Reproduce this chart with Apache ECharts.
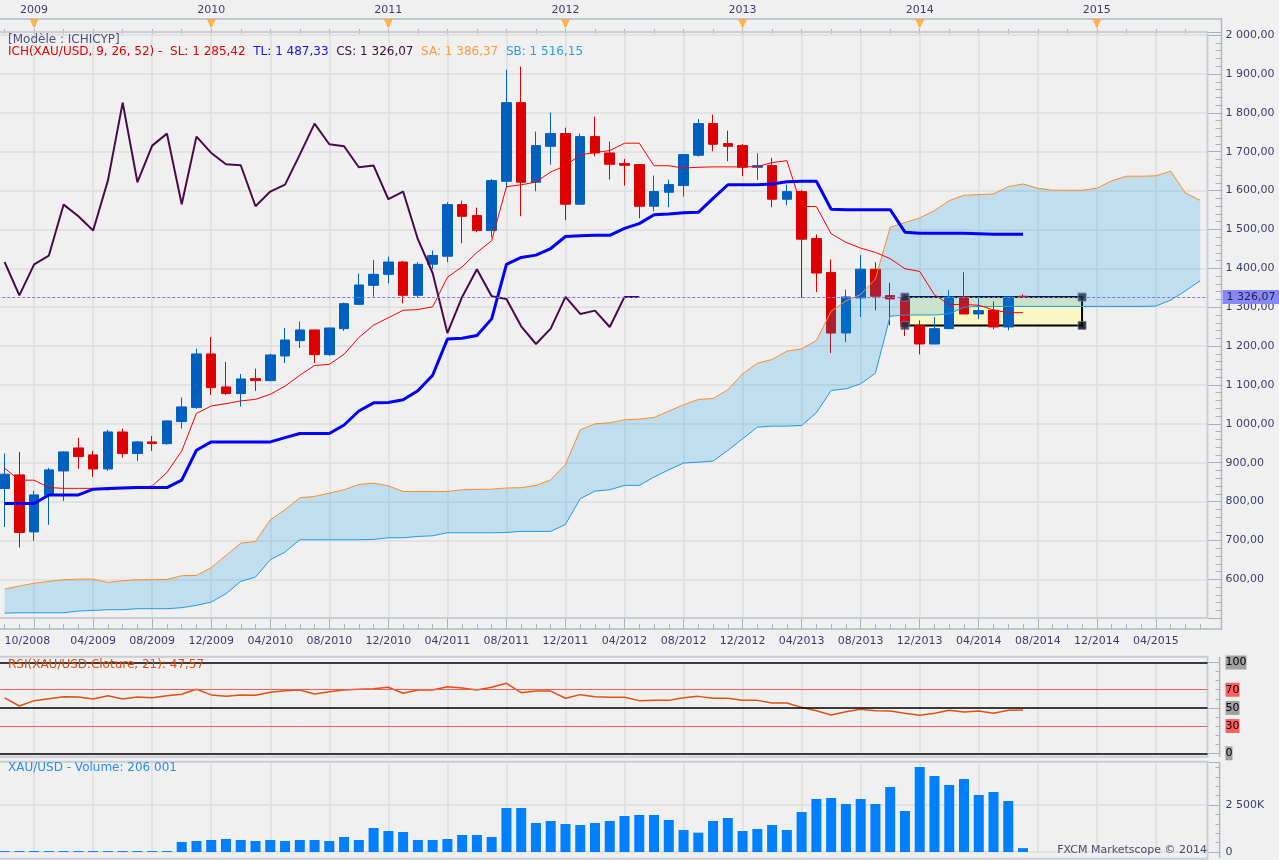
<!DOCTYPE html>
<html><head><meta charset="utf-8">
<script src="https://cdn.jsdelivr.net/npm/echarts@6/dist/echarts.min.js"></script>
<style>html,body{margin:0;padding:0;background:#f0f0f0;overflow:hidden}#c{position:absolute;left:-3px;top:0;width:1282px;height:860px}</style>
</head><body><div id="c"></div>
<script>
// ---------- categories (monthly, first = 10/2008) ----------
const startYear = 2008, startMonth = 10, monthCount = 82;
const categories = [];
(function(){ let y = startYear, m = startMonth; for (let k = 0; k < monthCount; k++) { categories.push(String(m).padStart(2,'0') + '/' + y); m++; if (m > 12) { m = 1; y++; } } })();

// ---------- candles ----------
const opens = [833.5,868.7,722,816.4,878.9,938,920,884,979,923.5, 953.5,949,1005.8,1041.8,1179.8,1095,1077.8,1116.3,1111.2,1174.6, 1214,1241.5,1178,1244.9,1307.4,1356.3,1384.6,1416.3,1330.6,1410.7, 1431.2,1564,1535.8,1497.2,1624,1826.3,1621.5,1714,1746.6,1564.9, 1738.9,1696.9,1669.5,1666.9,1559.8,1595.8,1612.9,1690.9,1772.3,1720.9, 1715.7,1660,1664.3,1577.8,1597.5,1476.6,1389.5,1233.7,1323.9,1397.8, 1329.9,1324.8,1252.6,1205.4,1244.9,1326.5,1282.7,1292.1,1249.2,1328.2];
const closes = [870.4,720.4,817.2,881.5,927.8,915.8,884,979.2,923.5,953.5, 949.2,1007.5,1043.5,1179.8,1093.2,1077.8,1115.5,1111.2,1177.2,1215.7, 1241.5,1178,1246.6,1309.2,1357.2,1384.6,1416.3,1330.6,1410.3,1433, 1564,1534,1497.2,1625.8,1826.3,1621.5,1715.7,1746.6,1564.9,1738.9, 1696.9,1667.8,1665.2,1559.8,1597.5,1615.5,1692.6,1772.3,1719.2,1714, 1660,1664.3,1577.8,1597.5,1475,1388,1233.5,1326.5,1397.8,1328.2, 1321.3,1250.9,1205.4,1244.9,1326.5,1282.7,1291.3,1249.2,1326.5,1326.07];
const lows = [735,681.8,699,740,801.8,884,863.5,878.9,913.2,904.6, 930.4,946,987.8,1039,1074.3,1074.3,1044.4,1084.6,1110,1156.6, 1195.2,1156.6,1174.6,1239,1307,1327.2,1361.4,1310,1324.6,1398.6, 1415.8,1464.6,1493,1480,1608.6,1534,1598.3,1666.9,1523.8,1564, 1688.3,1628.3,1612.9,1528.9,1546.9,1557.2,1584.6,1687.5,1701.2,1675.5, 1636.9,1627.5,1557.2,1562.3,1324,1338.7,1182,1210.5,1274.9,1292.1, 1253.5,1226,1178.7,1205,1244,1282,1269.8,1243.2,1240.6,1324];
const highs = [923.5,927.8,827.5,886.6,930,963.8,930.4,985,987.8,956, 969,1009,1067.5,1193.5,1223.5,1159.2,1128.3,1142,1180,1246.6, 1262.9,1242,1247,1311.7,1386.3,1421.4,1430,1419,1416,1445.8, 1570,1574.3,1556.3,1630,1911,1918.9,1751.7,1800.6,1762,1746.6, 1790.3,1726,1681.5,1668,1638.6,1628.3,1693,1784.3,1795.4,1754.3, 1720,1696,1684,1615.5,1601.8,1487,1422.7,1345.4,1433.9,1415.8, 1362.6,1333,1266.4,1274.9,1343.7,1390,1326.5,1315.3,1327,1333.4];

// ---------- Ichimoku lines ----------
const tenkan = [886,855,855,836,834,834,834,830,836,836, 840,875,930,1027,1046,1052,1059,1063,1076,1097, 1125,1150,1153,1179,1222,1254,1273,1292,1294,1301, 1377,1404,1441,1471,1610,1615,1622,1648,1664,1692, 1698,1703,1722,1722,1664,1664,1658,1660,1661,1661, 1661,1662,1672,1677,1559,1559,1489,1467,1452,1441, 1425,1399,1392,1332,1307,1307,1305,1293,1286,1286];
const kijun = [795,795,795,817,817,817,832,833.5,835,836, 836,836,855,932,953.5,953.5,953.5,953.5,953.5,964.6, 975,975,975,997,1033,1054,1055,1062,1085,1125, 1218,1220,1227,1270,1410,1428,1434,1451,1482,1484, 1485,1485,1503,1515,1538,1540,1543,1544,1580,1615, 1615,1615,1617,1623,1624,1624,1552,1551,1551,1551, 1551,1493,1490,1490,1490,1490,1489,1488,1488,1488];
const senkouA = [575,582.6,590,594.6,599,600.6,600.6,592,596.4,599, 599,599.8,609.2,610,630,661.5,693,697.5,753.2,779, 809.7,813.2,821.7,830.3,844,847.5,840.6,826,826,826, 826,830.3,831.2,832,835,835.6,841.6,856,895.5,984.7, 1000,1002.7,1010.4,1012,1016.4,1032.7,1049,1062.7,1065.2,1087.5, 1128.6,1156,1165.5,1187,1193,1214.4,1289.8,1316,1333,1372.9, 1505.7,1517.7,1529.7,1548.6,1574.3,1588,1589.7,1591.4,1610.3,1617, 1606,1601,1601,1601,1606,1625,1637,1637,1638,1650, 1594,1575];
const senkouB = [513,514,514,514,514,518.4,520,521.8,521.8,524.4, 524.4,524.4,527,533,541.5,563,594.6,605.8,650.3,670, 701.8,701.8,701.8,701.8,701.8,702.6,706.9,706.9,710.3,712, 719.8,719.8,719.8,719.8,720.5,723.3,723.3,723.3,741.3,807.3, 827,830.4,841.6,841.6,863,881.8,899,901.5,904.1,931.5, 961.5,991.5,994.1,994.1,995.8,1028.4,1085.8,1090,1102.9,1130.4, 1276.9,1280,1280,1280,1283,1300,1302,1302,1302,1302, 1302,1302,1302,1302,1302,1302,1302,1302,1303,1318, 1342,1368];
const chikouShift = 26;

// ---------- RSI and volume ----------
const rsi = [61,52.1,58,60.2,62.3,62,59.8,63.4,59.8,62, 61.3,63.4,65,70.5,64.3,62.9,64.3,64,67.2,69, 69.7,65.3,67.9,69.7,70.5,71.2,72.7,66.1,69.7,69.7, 73.4,72,69.7,72.7,77.1,66.7,68.5,68.5,60.6,64.6, 62.3,61.7,61.7,58,58.3,58.3,61.2,62.7,60.5,60.5, 58.3,58.3,55.4,55.4,50.6,46.9,42.2,45.8,48.4,46.9, 46.6,44,41.8,44,47.3,45.4,46.6,44,47.3,47.57];
const rsiLevels = [100, 70, 50, 30, 0];
const volumeK = [50,50,50,50,50,50,50,50,50,50,50,50, 532,585,638,691,638,585,638,585,638,638,585,798,638, 1277,1117,1064,638,638,691,904,904,798, 2340,2340,1543,1649,1489,1436,1543,1649,1915,1968, 1968,1702,1170,1028,1649,1809,1117,1223,1436,1170,2128,2819,2872,2553,2819,2553,3457,2181,4521,4043,3564,3883,3032,3191,2713,206];

// ---------- drawn box ----------
const boxStartIdx = 61, boxEndIdx = 73, boxTop = 1326.07, boxBottom = 1253.2;

// ---------- legend values ----------
const legendSL = 1285.42, legendTL = 1487.33, legendCS = 1326.07, legendSA = 1386.37, legendSB = 1516.15;
const rsiLast = 47.57, volumeLast = 206001;

// ---------- helpers ----------
function fmt(v, dec) {
  const s = Number(v).toFixed(dec); const p = s.split('.');
  const ip = p[0].replace(/\B(?=(\d{3})+(?!\d))/g, ' ');
  return p.length > 1 ? ip + ',' + p[1] : ip;
}
const monthOf = i => parseInt(categories[i].slice(0, 2), 10);
const isGridMonth = i => monthOf(i) % 4 === 0;
const candleData = opens.map((o, i) => [o, closes[i], lows[i], highs[i]]);
const chikou = categories.map((_, i) => (i + chikouShift < closes.length ? closes[i + chikouShift] : '-'));
const cloudThickness = senkouA.map((a, i) => a - senkouB[i]);
const yearMarks = categories.map((c, i) => i).filter(i => monthOf(i) === 12).map(i => [categories[i], 0.5]);

const FF = '"DejaVu Sans", sans-serif';
const TXT = '#3c3c6c';
const GRIDC = '#dedede';
const X0 = 3;               // div is shifted 3px left; add X0 to page x coords
const L = 0.22, W = 1210.3;

const splitX = { show: true, interval: (i) => isGridMonth(i), alignWithLabel: true, lineStyle: { color: GRIDC, width: 1.5 } };
function hiddenX(grid, split) {
  return { gridIndex: grid, type: 'category', data: categories, boundaryGap: true,
    axisLine: { show: false }, axisTick: { show: false }, axisLabel: { show: false },
    splitLine: split ? splitX : { show: false } };
}
function gridAt(top, height) { return { left: L, width: W, top: top, height: height, outerBoundsMode: 'none', containLabel: false }; }

const chart = echarts.init(document.getElementById('c'), null, { renderer: 'canvas' });
chart.setOption({
  backgroundColor: '#f0f0f0',
  animation: false,
  title: [
    { text: '[Modèle : ICHICYP]', left: 8 + X0, top: 34, padding: 0, z: 20,
      textStyle: { fontSize: 12, fontWeight: 'normal', color: '#50507a', fontFamily: FF } },
    { text: '{a|ICH(XAU/USD, 9, 26, 52) -  SL: ' + fmt(legendSL, 2) + '}  {b|TL: ' + fmt(legendTL, 2) + '}  {c|CS: ' + fmt(legendCS, 2) + '}  {d|SA: ' + fmt(legendSA, 2) + '}  {e|SB: ' + fmt(legendSB, 2) + '}',
      left: 8 + X0, top: 46, padding: 0, z: 20,
      textStyle: { fontSize: 12, fontWeight: 'normal', fontFamily: FF,
        rich: { a: { color: '#e60000', fontSize: 12, fontFamily: FF }, b: { color: '#1414e6', fontSize: 12, fontFamily: FF },
                c: { color: '#3c0a3c', fontSize: 12, fontFamily: FF }, d: { color: '#ff9a3c', fontSize: 12, fontFamily: FF },
                e: { color: '#28a0e6', fontSize: 12, fontFamily: FF } } } },
    { text: 'RSI(XAU/USD.Cloture, 21): ' + fmt(rsiLast, 2), left: 8 + X0, top: 659, padding: 0, z: 20,
      textStyle: { fontSize: 12, fontWeight: 'normal', color: '#e2500f', fontFamily: FF } },
    { text: 'XAU/USD - Volume: ' + fmt(volumeLast, 0), left: 8 + X0, top: 762, padding: 0, z: 20,
      textStyle: { fontSize: 12, fontWeight: 'normal', color: '#2d8be6', fontFamily: FF } },
    { text: 'FXCM Marketscope © 2014', right: 72, top: 845, padding: 0, z: 20,
      textStyle: { fontSize: 11, fontWeight: 'normal', color: '#4a4a6a', fontFamily: FF } }
  ],
  grid: [ gridAt(32, 586.2), gridAt(19, 10), gridAt(618.2, 10.8), gridAt(662.5, 90.8), gridAt(762, 90) ],
  xAxis: [
    hiddenX(0, true),
    { gridIndex: 1, type: 'category', data: categories, position: 'top', boundaryGap: true,
      axisLine: { show: false },
      axisTick: { show: true, inside: true, length: 5, alignWithLabel: true, interval: (i) => i % 2 === 0, lineStyle: { color: '#a8b0c0' } },
      axisLabel: { show: true, interval: 0, margin: 3, color: TXT, fontSize: 11, fontFamily: FF,
        formatter: (v) => { const p = v.split('/'); return p[0] === '12' ? String(+p[1] + 1) : ''; } },
      splitLine: { show: false } },
    { gridIndex: 2, type: 'category', data: categories, position: 'bottom', boundaryGap: true,
      axisLine: { show: false },
      axisTick: { show: true, inside: true, length: 5, alignWithLabel: true, interval: 0, lineStyle: { color: '#a8b0c0' } },
      axisLabel: { show: true, interval: (i) => i === 0 || (isGridMonth(i) && i >= 6), margin: 7, color: TXT, fontSize: 11, fontFamily: FF, alignMinLabel: 'left', hideOverlap: false },
      splitLine: { show: false } },
    { gridIndex: 2, type: 'category', data: categories, position: 'bottom', boundaryGap: true,
      axisLine: { show: false },
      axisTick: { show: true, inside: true, length: 11, alignWithLabel: true, interval: (i) => isGridMonth(i), lineStyle: { color: '#a8b0c0' } },
      axisLabel: { show: false }, splitLine: { show: false } },
    hiddenX(3, true),
    hiddenX(4, true)
  ],
  yAxis: [
    { gridIndex: 0, type: 'value', position: 'right', offset: 14, min: 500, max: 2008, interval: 100,
      axisLine: { show: false },
      axisTick: { show: true, inside: true, length: 14, lineStyle: { color: '#a8b0c0' } },
      minorTick: { show: true, splitNumber: 5, length: 6, lineStyle: { color: '#a8b0c0' } },
      axisLabel: { margin: 4, color: TXT, fontSize: 11, fontFamily: FF,
        formatter: (v) => (v % 100 === 0 && v >= 600 && v <= 2000) ? fmt(v, 2) : '' },
      splitLine: { show: true, lineStyle: { color: GRIDC, width: 1.5 } } },
    { gridIndex: 1, type: 'value', min: 0, max: 1, show: false },
    { gridIndex: 2, type: 'value', min: 0, max: 1, show: false },
    { gridIndex: 3, type: 'value', position: 'right', offset: 12, min: 0, max: 100, interval: 50,
      axisLine: { show: false },
      axisTick: { show: true, inside: true, length: 11, lineStyle: { color: '#a8b0c0' } },
      minorTick: { show: true, splitNumber: 5, length: 4, lineStyle: { color: '#a8b0c0' } },
      axisLabel: { show: false }, splitLine: { show: false } },
    { gridIndex: 4, type: 'value', position: 'right', offset: 12, min: 0, max: 4787, interval: 2500,
      axisLine: { show: false },
      axisTick: { show: true, inside: true, length: 11, lineStyle: { color: '#a8b0c0' } },
      minorTick: { show: true, splitNumber: 5, length: 4, lineStyle: { color: '#a8b0c0' } },
      axisLabel: { margin: 6, color: TXT, fontSize: 11, fontFamily: FF,
        formatter: (v) => v === 0 ? '0' : (v % 2500 === 0 ? fmt(v, 0) + 'K' : '') },
      splitLine: { show: true, lineStyle: { color: GRIDC, width: 1.5 } } }
  ],
  series: [
    { type: 'candlestick', name: 'XAU/USD', xAxisIndex: 0, yAxisIndex: 0, z: 2, barWidth: 10,
      data: candleData, emphasis: { disabled: true }, silent: true,
      itemStyle: { color: '#0060c0', color0: '#dd0000', borderColor: '#0060c0', borderColor0: '#dd0000', borderWidth: 1 },
      markArea: { silent: true,
        itemStyle: { color: '#faf7c2', borderColor: '#000', borderWidth: 2 },
        data: [[{ xAxis: categories[boxStartIdx], yAxis: boxTop }, { xAxis: categories[boxEndIdx], yAxis: boxBottom }]] },
      markLine: { silent: true, symbol: ['none', 'none'],
        data: [{ yAxis: closes[closes.length - 1],
          lineStyle: { color: '#7878ff', width: 1, type: [3, 2] },
          label: { show: true, position: 'end', distance: 15, formatter: fmt(closes[closes.length - 1], 2),
            backgroundColor: '#8888f4', color: '#1e1e50', fontSize: 11, fontFamily: FF, padding: [2, 4, 1, 4] } }] } },
    { type: 'line', name: 'kumoBase', xAxisIndex: 0, yAxisIndex: 0, data: senkouB, stack: 'kumo', symbol: 'none',
      lineStyle: { opacity: 0 }, z: 3, silent: true },
    { type: 'line', name: 'kumo', xAxisIndex: 0, yAxisIndex: 0, data: cloudThickness, stack: 'kumo', symbol: 'none',
      lineStyle: { opacity: 0 }, areaStyle: { color: 'rgba(0,150,230,0.2)', opacity: 1 }, z: 3, silent: true },
    { type: 'line', name: 'SA', xAxisIndex: 0, yAxisIndex: 0, data: senkouA, symbol: 'none',
      lineStyle: { color: '#ff8c28', width: 1 }, z: 4, silent: true },
    { type: 'line', name: 'SB', xAxisIndex: 0, yAxisIndex: 0, data: senkouB, symbol: 'none',
      lineStyle: { color: '#1e9be6', width: 1 }, z: 4, silent: true },
    { type: 'line', name: 'SL', xAxisIndex: 0, yAxisIndex: 0, data: tenkan, symbol: 'none',
      lineStyle: { color: '#ff0000', width: 1 }, z: 4, silent: true },
    { type: 'line', name: 'TL', xAxisIndex: 0, yAxisIndex: 0, data: kijun, symbol: 'none',
      lineStyle: { color: '#0000ff', width: 3 }, z: 4, silent: true },
    { type: 'line', name: 'CS', xAxisIndex: 0, yAxisIndex: 0, data: chikou, symbol: 'none',
      lineStyle: { color: '#4a0a4a', width: 2 }, z: 4, silent: true },
    { type: 'scatter', name: 'handles', xAxisIndex: 0, yAxisIndex: 0, symbol: 'rect', symbolSize: 8, z: 6, silent: true,
      itemStyle: { color: '#1e2a46', borderColor: '#7080b0', borderWidth: 1 },
      data: [[categories[boxStartIdx], boxTop], [categories[boxEndIdx], boxTop], [categories[boxStartIdx], boxBottom],
             { value: [categories[boxEndIdx], boxBottom], itemStyle: { color: '#000000' } }] },
    { type: 'scatter', name: 'years', xAxisIndex: 1, yAxisIndex: 1, symbol: 'triangle', symbolRotate: 180,
      symbolSize: [9, 10], data: yearMarks, itemStyle: { color: '#ffa526' }, silent: true, z: 5 },
    { type: 'line', name: 'RSI', xAxisIndex: 4, yAxisIndex: 3, data: rsi, symbol: 'none',
      lineStyle: { color: '#e2500f', width: 1.5 }, silent: true,
      markLine: { silent: true, symbol: ['none', 'none'],
        data: rsiLevels.map(v => {
          const red = (v === 70 || v === 30);
          return { yAxis: v,
            lineStyle: { color: red ? '#ff5a5a' : '#000000', width: red ? 1 : 1.5, type: 'solid' },
            label: { show: true, position: 'end', distance: 18, formatter: String(v),
              backgroundColor: red ? '#ff6060' : '#a0a0a0', color: '#000', fontSize: 11, fontFamily: FF, padding: [2, 0, 1, 0] } };
        }) } },
    { type: 'bar', name: 'Volume', xAxisIndex: 5, yAxisIndex: 4, data: volumeK, barWidth: 10,
      itemStyle: { color: '#0080ff' }, silent: true }
  ],
  graphic: [
    { type: 'rect', z: 5, silent: true, shape: { x: -3 + X0, y: 32, width: 1210.5, height: 586 }, style: { fill: 'transparent', stroke: '#c8cdd8', lineWidth: 2 } },
    { type: 'line', z: 5, silent: true, shape: { x1: X0, y1: 19, x2: 1222 + X0, y2: 19 }, style: { stroke: '#b0b8c8', lineWidth: 1.5 } },
    { type: 'line', z: 5, silent: true, shape: { x1: 1221.5 + X0, y1: 19, x2: 1221.5 + X0, y2: 629 }, style: { stroke: '#b0b8c8', lineWidth: 1.5 } },
    { type: 'line', z: 5, silent: true, shape: { x1: X0, y1: 629, x2: 1222 + X0, y2: 629 }, style: { stroke: '#b0b8c8', lineWidth: 1.5 } },
    { type: 'rect', z: 5, silent: true, shape: { x: -3 + X0, y: 656.7, width: 1210.5, height: 100 }, style: { fill: 'transparent', stroke: '#c8cdd8', lineWidth: 2 } },
    { type: 'line', z: 5, silent: true, shape: { x1: 1219.6 + X0, y1: 657, x2: 1219.6 + X0, y2: 757 }, style: { stroke: '#b0b8c8', lineWidth: 1.5 } },
    { type: 'rect', z: 5, silent: true, shape: { x: -3 + X0, y: 761.7, width: 1210.5, height: 97 }, style: { fill: 'transparent', stroke: '#c8cdd8', lineWidth: 2 } },
    { type: 'line', z: 5, silent: true, shape: { x1: 1219.6 + X0, y1: 762, x2: 1219.6 + X0, y2: 858 }, style: { stroke: '#b0b8c8', lineWidth: 1.5 } }
  ]
});
</script></body></html>
